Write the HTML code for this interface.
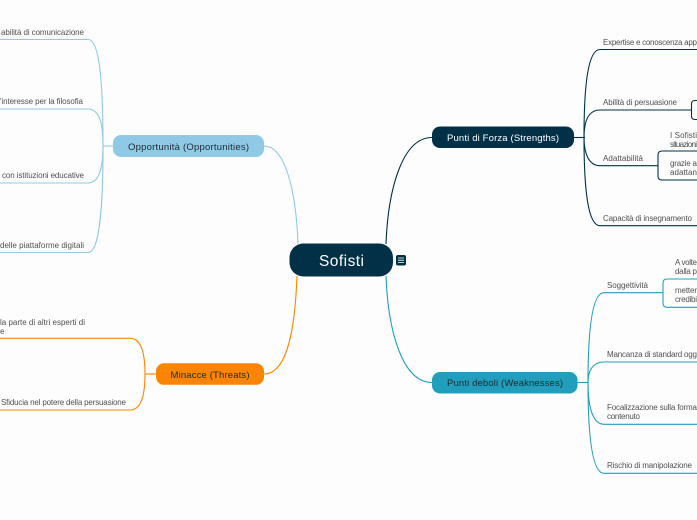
<!DOCTYPE html>
<html lang="it">
<head>
<meta charset="utf-8">
<title>Sofisti</title>
<style>
html,body{margin:0;padding:0;width:697px;height:520px;overflow:hidden;background:#fdfdfd}
svg{display:block}
text{font-family:"Liberation Sans",sans-serif;font-size:8px;fill:#505050}
.n{font-size:9.500px}
path{fill:none;stroke-width:1.1}
.d{stroke:#023047}.b{stroke:#219ebc}.l{stroke:#8ecae6}.o{stroke:#fb8500}
</style>
</head>
<body>
<svg width="697" height="520" viewBox="0 0 697 520" xmlns="http://www.w3.org/2000/svg">
<!-- main connectors -->
<path class="d" d="M386 244C388 190 402 137.500 432 137.500"/>
<path class="b" d="M386 276C388 330 402 382.500 432 382.500"/>
<path class="l" d="M298 244C296 190 285 146 264 146"/>
<path class="o" d="M297 276C295 330 287 374 264 374"/>

<!-- strengths branches -->
<path class="d" d="M574 137.500H585"/>
<path class="d" d="M584 137.500C584 85 588 49.500 600 49.500H697"/>
<path class="d" d="M584 137.500C584 122 588 110 600 110H691"/>
<path class="d" d="M584 137.500C584 152 588 165.700 600 165.700H658"/>
<path class="d" d="M584 137.500C584 190 588 225.700 600 225.700H697"/>
<path class="d" d="M697 100.500H695Q691.500 100.500 691.500 104V116Q691.500 119.500 695 119.500H697"/>
<path class="d" d="M697 151H662Q658 151 658 155V176Q658 180 662 180H697"/>

<!-- weaknesses branches -->
<path class="b" d="M577 382.500H588"/>
<path class="b" d="M588 382.500C588 330 592 292.700 604 292.700H663"/>
<path class="b" d="M588 382.500C588 372 592 362 604 362H697"/>
<path class="b" d="M588 382.500C588 405 592 424.300 604 424.300H697"/>
<path class="b" d="M588 382.500C588 435 592 473.300 604 473.300H697"/>
<path class="b" d="M697 279H667Q663 279 663 283V303Q663 307.300 667 307.300H697"/>

<!-- opportunities branches -->
<path class="l" d="M113 146H103"/>
<path class="l" d="M103 146C103 85 100 39.500 88 39.500H0"/>
<path class="l" d="M103 146C103 125 100 109 88 109H0"/>
<path class="l" d="M103 146C103 165 100 183 88 183H0"/>
<path class="l" d="M103 146C103 205 100 252.500 88 252.500H0"/>

<!-- threats branches -->
<path class="o" d="M156 374H145"/>
<path class="o" d="M145 374C145 355 142 338.300 130 338.300H0"/>
<path class="o" d="M145 374C145 393 142 410 130 410H0"/>

<!-- nodes -->
<rect x="289.500" y="243.500" width="103.500" height="33" rx="14" fill="#023047"/>
<rect x="432" y="126.500" width="142" height="21.500" rx="8" fill="#023047"/>
<rect x="432" y="372" width="145.500" height="21.500" rx="8" fill="#219ebc"/>
<rect x="113" y="135" width="151" height="22" rx="8" fill="#8ecae6"/>
<rect x="156" y="363.300" width="108" height="21.500" rx="8" fill="#fb8500"/>

<!-- node labels -->
<text x="319" y="266" style="font-size:15.500px;fill:#fff" textLength="45">Sofisti</text>
<text class="n" x="447" y="141" style="fill:#fff" textLength="112">Punti di Forza (Strengths)</text>
<text class="n" x="447" y="386" style="fill:#1e2a30" textLength="116">Punti deboli (Weaknesses)</text>
<text class="n" x="128" y="150" style="fill:#1e2a30" textLength="121">Opportunità (Opportunities)</text>
<text class="n" x="170.500" y="378" style="fill:#1e2a30" textLength="79">Minacce (Threats)</text>

<!-- note icon -->
<rect x="396" y="255" width="10" height="10.500" rx="2" fill="#023047"/>
<path d="M398 258H404M398 260.200H404M398 262.400H404" style="stroke:#fff;stroke-width:.8"/>

<!-- strengths labels -->
<text x="603" y="45" textLength="94">Expertise e conoscenza app</text>
<text x="603" y="105" textLength="74">Abilità di persuasione</text>
<text x="603" y="161" textLength="40">Adattabilità</text>
<text x="603" y="221" textLength="89">Capacità di insegnamento</text>
<text x="670" y="138" textLength="27">I Sofisti</text>
<text x="670" y="147" textLength="27">situazioni</text>
<text x="670" y="166" textLength="27">grazie a</text>
<text x="670" y="175" textLength="27">adattan</text>

<!-- weaknesses labels -->
<text x="607" y="288" textLength="41">Soggettività</text>
<text x="675" y="265" textLength="22">A volte</text>
<text x="675" y="274" textLength="22">dalla p</text>
<text x="675" y="293" textLength="22">metter</text>
<text x="675" y="302" textLength="22">credibi</text>
<text x="607" y="357" textLength="90">Mancanza di standard ogg</text>
<text x="607" y="410" textLength="90">Focalizzazione sulla forma</text>
<text x="607" y="419" textLength="33">contenuto</text>
<text x="607" y="468" textLength="85">Rischio di manipolazione</text>

<!-- opportunities labels -->
<text x="1" y="35" textLength="83">abilità di comunicazione</text>
<text x="0" y="104" textLength="83">'interesse per la filosofia</text>
<text x="2" y="178" textLength="82">con istituzioni educative</text>
<text x="0" y="248" textLength="84">delle piattaforme digitali</text>

<!-- threats labels -->
<text x="0" y="325" textLength="85">la parte di altri esperti di</text>
<text x="0" y="334">e</text>
<text x="1" y="405" textLength="125">Sfiducia nel potere della persuasione</text>
</svg>
</body>
</html>
